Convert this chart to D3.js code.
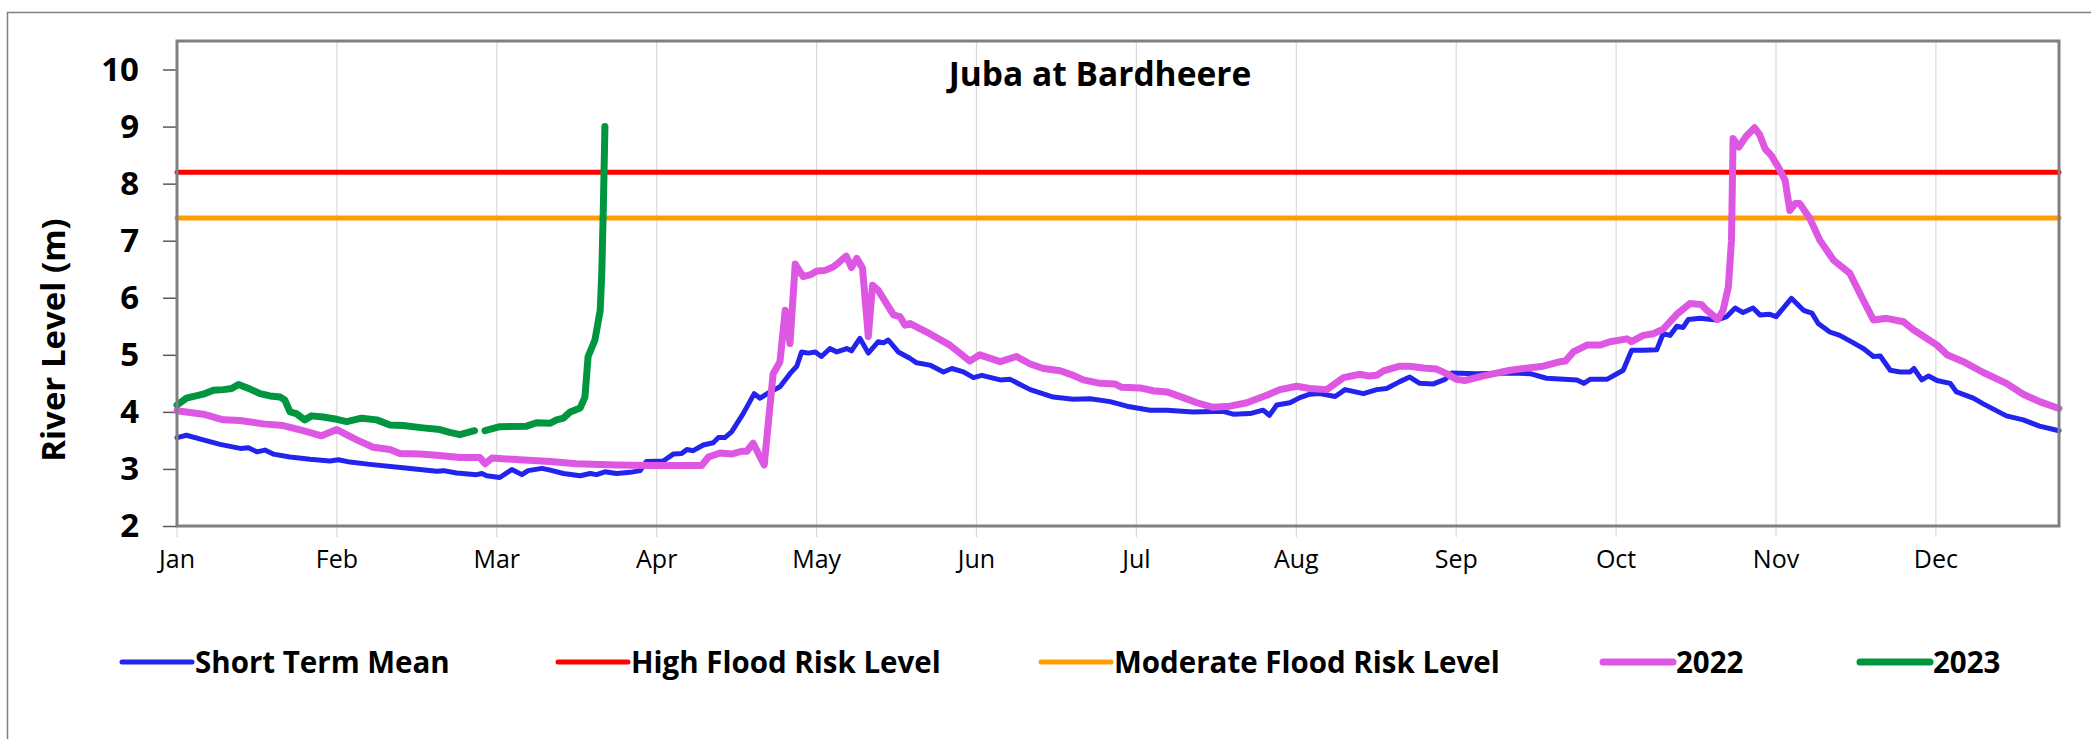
<!DOCTYPE html>
<html>
<head>
<meta charset="utf-8">
<script src="https://cdn.jsdelivr.net/npm/d3@7/dist/d3.min.js"></script>
<style>
    body { margin: 0; background: #fff; }
    svg { display: block; }
</style>
</head>
<body>
<svg id="chart" width="2091" height="739"></svg>
<script>
// Dati (giorno dell'anno, livello in metri)
var months = ["Jan", "Feb", "Mar", "Apr", "May", "Jun", "Jul", "Aug", "Sep", "Oct", "Nov", "Dec"];
var yTicks = [2, 3, 4, 5, 6, 7, 8, 9, 10];
var highFloodLevel = 8.2;
var moderateFloodLevel = 7.4;

var stmDays = [0, 1.8, 5, 8.2, 12, 13.6, 15.2, 16.7, 18.3, 21.5, 25.3, 29.1, 30.7, 32.9, 36.7, 43, 49.4, 50.7, 53.2, 57, 58, 58.9, 61.4, 63.7, 65.6, 66.8, 69.4, 71,
    73.5, 76.7, 78.6, 79.8, 81.4, 83.6, 86.2, 88.1, 89.3, 92.5, 94.4, 96, 97, 98.2, 100.1, 102, 103, 104.2, 105.5, 107.7, 109.8, 110.9, 112.8, 114.7, 116.6, 117.9,
    118.8, 120.1, 121.4, 122.6, 124.2, 125.5, 127.4, 128.3, 129.9, 131.5, 133.4, 134.4, 135.3, 137.2, 139.4, 140.7, 143.2,
    145.8, 147.4, 149.6, 151.5, 153.1, 156.6, 158.5, 162.3, 166.7, 170.5, 173.7, 177.5, 180.7, 185.1, 188.3, 193.3, 199, 200.9, 204.1, 206.6, 207.8, 209.2,
    211.7, 213.6, 215.5, 217.4, 220.3, 222.2, 225.7, 228.2, 230.1, 232.6, 234.5, 236.4, 239, 241.2, 242.5, 247.2, 253.6, 257.4, 260.5, 266.3, 267.6, 268.8,
    272, 275.1, 276.7, 278.9, 281.5, 282.7, 284, 285.3, 286.5, 287.5, 289.7, 292.9, 294.8, 296.4, 297.9, 299.8, 301.1, 303, 304.2, 307.1, 309.4, 311, 312.2,
    314.4, 316.3, 318.9, 320.8, 322.7, 324, 325.9, 327.8, 329.7, 330.4, 331.9, 333.2, 334.8, 337.3, 338.5, 341.7, 343.6, 348, 351.2, 354.3, 358];
var stmLevels = [3.55, 3.59, 3.51, 3.43, 3.36, 3.37, 3.30, 3.33, 3.26, 3.21, 3.17, 3.14, 3.16, 3.12, 3.08, 3.02, 2.96, 2.97, 2.93, 2.90, 2.92, 2.88, 2.85, 2.99, 2.90, 2.97, 3.01, 2.98,
    2.92, 2.88, 2.92, 2.90, 2.95, 2.92, 2.94, 2.97, 3.13, 3.14, 3.26, 3.27, 3.34, 3.32, 3.42, 3.46, 3.55, 3.55, 3.65, 3.97, 4.32, 4.24, 4.35, 4.44, 4.67, 4.80,
    5.05, 5.03, 5.05, 4.97, 5.11, 5.05, 5.11, 5.07, 5.29, 5.03, 5.23, 5.21, 5.26, 5.05, 4.94, 4.86, 4.82,
    4.70, 4.76, 4.70, 4.60, 4.64, 4.56, 4.57, 4.39, 4.26, 4.22, 4.23, 4.18, 4.10, 4.03, 4.03, 4.00, 4.01, 3.96, 3.97, 4.03, 3.94, 4.12,
    4.16, 4.25, 4.31, 4.32, 4.27, 4.39, 4.32, 4.39, 4.41, 4.53, 4.61, 4.50, 4.49, 4.57, 4.68, 4.67, 4.68, 4.67, 4.59, 4.56, 4.50, 4.57,
    4.57, 4.73, 5.08, 5.08, 5.09, 5.37, 5.34, 5.50, 5.48, 5.62, 5.64, 5.61, 5.67, 5.82, 5.74, 5.82, 5.70, 5.71, 5.67, 5.99, 5.78, 5.73, 5.55,
    5.40, 5.34, 5.21, 5.11, 4.97, 4.98, 4.73, 4.70, 4.70, 4.76, 4.56, 4.63, 4.55, 4.50, 4.35, 4.24, 4.14, 3.93, 3.86, 3.75, 3.67];

var days2022 = [0, 5, 8.8, 12, 16.4, 20.2, 24, 27.5, 30.4, 34.2, 37.3, 40.5, 42.4, 46.2, 49.4, 53.8, 57.6, 58.6, 59.9, 65.2, 71,
    76, 83.6, 90, 99.8, 101.1, 103.3, 105.5, 107.4, 108.4, 109.6, 111.7, 113.4, 114.7, 115.7, 116.6, 117.6, 119.1, 120.4, 121.7, 123.3, 124.8,
    125.8, 127.3, 128.3, 129.3, 130.4, 131.5, 132.3, 133.4, 136.3, 137.5, 138.5, 139.4, 141.3, 143.2,
    147, 150.8, 152.7, 156.6, 159.7, 162.3, 164.8, 168, 170.5, 172.4, 175.6, 178.4, 179.7, 183.2, 185.7, 188.3, 191.4, 194, 197.1, 200.3, 203.5,
    207.3, 209.8, 213, 215.5, 218.7, 221.9, 225, 226.6, 228.2, 229.5, 232.6, 234.5, 237.1, 239.6, 241.5, 243.4, 245, 248.5, 253.6, 259.9, 263.1,
    264.1, 265.6, 268.2, 270.7, 272.6, 275.8, 276.7, 278.9, 280.8, 282.7, 285.3, 287.8, 290, 290.9, 293.1, 294.1, 295.1, 295.7, 296, 297.1,
    298.5, 300.1, 301.1, 302.1, 303.3, 304.6, 305.9, 306.8, 307.8, 308.7, 310.6, 312.5, 315.1, 318.2, 320.1, 322.7, 325.2, 328.4, 330.3, 334.8,
    336.7, 339.8, 343.6, 348, 351.2, 354.3, 358];
var levels2022 = [4.02, 3.96, 3.86, 3.85, 3.79, 3.76, 3.67, 3.58, 3.69, 3.51, 3.38, 3.34, 3.27, 3.26, 3.24, 3.20, 3.20, 3.09, 3.19, 3.16, 3.13,
    3.09, 3.07, 3.06, 3.06, 3.21, 3.28, 3.26, 3.31, 3.31, 3.45, 3.07, 4.67, 4.88, 5.78, 5.20, 6.59, 6.37, 6.40, 6.47, 6.48, 6.54,
    6.61, 6.73, 6.53, 6.69, 6.52, 5.32, 6.22, 6.13, 5.70, 5.67, 5.52, 5.55, 5.46, 5.37,
    5.17, 4.89, 5.00, 4.88, 4.97, 4.84, 4.76, 4.72, 4.64, 4.56, 4.50, 4.49, 4.43, 4.42, 4.37, 4.35, 4.25, 4.16, 4.08, 4.10, 4.16,
    4.29, 4.39, 4.45, 4.41, 4.39, 4.60, 4.66, 4.63, 4.64, 4.72, 4.80, 4.80, 4.77, 4.75, 4.67, 4.57, 4.55, 4.63, 4.73, 4.80, 4.88,
    4.89, 5.05, 5.17, 5.17, 5.23, 5.28, 5.23, 5.34, 5.37, 5.45, 5.71, 5.90, 5.88, 5.79, 5.62, 5.78, 6.19, 7.01, 8.79, 8.64,
    8.83, 8.98, 8.85, 8.61, 8.49, 8.29, 8.06, 7.53, 7.65, 7.65, 7.39, 7.01, 6.66, 6.43, 6.08, 5.61, 5.64, 5.58, 5.44, 5.17,
    5.00, 4.88, 4.69, 4.50, 4.31, 4.18, 4.06];

// 2023: null = dato mancante (interruzione della linea)
var days2023 = [0, 1.8, 5, 6.9, 8.8, 10.4, 11.7, 13.9, 15.8, 17.7, 19.6, 20.5, 21.5, 22.7, 24.3, 25.6, 27.8, 30.4, 32.3, 35.1, 38, 40.5, 43, 46.8,
    50, 51.9, 53.8, 56.6, 57.6, 58.6, 61.4, 66.5, 68.4, 71, 72.2, 73.5, 74.8, 76.7, 77.6, 78.2, 79.5, 80.5, 80.8, 81.1, 81.4];
var levels2023 = [4.12, 4.24, 4.31, 4.38, 4.39, 4.41, 4.48, 4.40, 4.32, 4.28, 4.26, 4.21, 4.00, 3.97, 3.86, 3.93, 3.91, 3.87, 3.83, 3.89, 3.86, 3.77, 3.76, 3.72,
    3.69, 3.64, 3.60, 3.67, null, 3.67, 3.74, 3.75, 3.81, 3.80, 3.86, 3.89, 4.00, 4.07, 4.26, 4.97, 5.26, 5.78, 6.43, 7.59, 9.00];

var legendLabels = ["Short Term Mean", "High Flood Risk Level", "Moderate Flood Risk Level", "2022", "2023"];
var seriesColors = ["#2323ee", "#ff0000", "#ff9d00", "#dd57e3", "#00963f"];

const svg = d3.select("#chart");
const font = "'Open Sans', 'DejaVu Sans', sans-serif";

// area del grafico ("top" e' gia' usato da window, quindi nomi diversi)
var plotLeft = 177, plotRight = 2059, plotTop = 41, plotBottom = 526;

var x = d3.scaleLinear().domain([0, 358]).range([plotLeft, plotRight]);
var y = d3.scaleLinear().domain([2, 10.5]).range([plotBottom, plotTop]);
var monthPos = months.map((m, i) => i * 365 / 12);

// cornice esterna (tagliata a destra e in basso)
svg.append("rect")
    .attr("x", 7.5).attr("y", 12.5)
    .attr("width", 2200).attr("height", 900)
    .attr("fill", "none")
    .attr("stroke", "#7f7f7f")
    .attr("stroke-width", 1.5);

// griglia verticale (si allunga sotto come tacca)
svg.append("g")
    .selectAll("line")
    .data(monthPos)
    .join("line")
    .attr("x1", d => x(d)).attr("x2", d => x(d))
    .attr("y1", plotTop).attr("y2", plotBottom + 11)
    .attr("stroke", "#d9d9d9")
    .attr("stroke-width", 1.2);

// asse y
var yAxis = d3.axisLeft(y).tickValues(yTicks).tickSize(14).tickPadding(24).tickFormat(d3.format("d"));
var gy = svg.append("g").attr("transform", "translate(" + plotLeft + ",0)").call(yAxis);
gy.select(".domain").remove();
gy.selectAll(".tick line").attr("stroke", "#595959").attr("stroke-width", 1.5);
gy.selectAll(".tick text")
    .attr("font-family", font)
    .attr("font-weight", "bold")
    .attr("font-size", 33)
    .attr("fill", "#000");

// asse x: solo etichette dei mesi
svg.append("g")
    .selectAll("text")
    .data(months)
    .join("text")
    .attr("x", (d, i) => x(monthPos[i]))
    .attr("y", 568)
    .attr("text-anchor", "middle")
    .attr("font-family", font)
    .attr("font-size", 25)
    .attr("fill", "#000")
    .text(d => d);

// titolo asse y
svg.append("text")
    .attr("transform", "translate(65,340) rotate(-90)")
    .attr("text-anchor", "middle")
    .attr("font-family", font)
    .attr("font-weight", "bold")
    .attr("font-size", 33)
    .text("River Level (m)");

// titolo della stazione
svg.append("text")
    .attr("x", 1100).attr("y", 86)
    .attr("text-anchor", "middle")
    .attr("font-family", font)
    .attr("font-weight", "bold")
    .attr("font-size", 33.5)
    .text("Juba at Bardheere");

// linee
const lineGenerator = d3.line()
    .defined(d => d[1] != null)
    .x(d => x(d[0]))
    .y(d => y(d[1]));

function drawSeries(days, levels, color, width) {
    svg.append("path")
        .attr("d", lineGenerator(days.map((d, i) => [d, levels[i]])))
        .attr("fill", "none")
        .attr("stroke", color)
        .attr("stroke-width", width)
        .attr("stroke-linejoin", "round")
        .attr("stroke-linecap", "round");
}

drawSeries(stmDays, stmLevels, seriesColors[0], 5);
drawSeries([0, 358], [highFloodLevel, highFloodLevel], seriesColors[1], 5);
drawSeries([0, 358], [moderateFloodLevel, moderateFloodLevel], seriesColors[2], 5);
drawSeries(days2022, levels2022, seriesColors[3], 7);
drawSeries(days2023, levels2023, seriesColors[4], 7);

// bordo dell'area del grafico
svg.append("rect")
    .attr("x", plotLeft).attr("y", plotTop)
    .attr("width", plotRight - plotLeft).attr("height", plotBottom - plotTop)
    .attr("fill", "none")
    .attr("stroke", "#808080")
    .attr("stroke-width", 3);

// legenda
var legendX = [122, 558, 1041, 1603, 1860];
var legendW = [5, 5, 5, 7, 7];
var legendY = 662;
var lg = svg.append("g");
legendLabels.forEach(function (lab, i) {
    lg.append("line")
        .attr("x1", legendX[i]).attr("x2", legendX[i] + 70)
        .attr("y1", legendY).attr("y2", legendY)
        .attr("stroke", seriesColors[i])
        .attr("stroke-width", legendW[i])
        .attr("stroke-linecap", "round");
    lg.append("text")
        .attr("x", legendX[i] + 73)
        .attr("y", legendY + 11)
        .attr("font-family", font)
        .attr("font-weight", "bold")
        .attr("font-size", 29.5)
        .text(lab);
});
</script>
</body>
</html>
